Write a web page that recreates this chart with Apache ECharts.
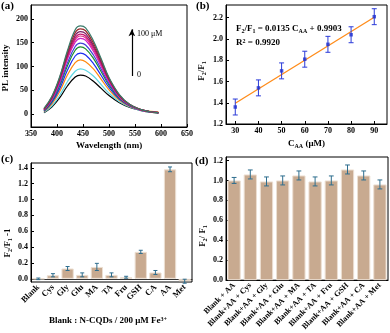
<!DOCTYPE html>
<html>
<head>
<meta charset="utf-8">
<script src="https://cdn.jsdelivr.net/npm/echarts@6/dist/echarts.min.js"></script>
<style>
  html, body { margin: 0; padding: 0; background: #fff; }
  #main { width: 390px; height: 333px; }
</style>
</head>
<body>
<div id="main"></div>
<script>
// (a) PL spectra, 0 -> 100 uM
var wavelengths = [375, 390, 405, 420, 435, 445, 455, 470, 485, 500, 520, 540, 560, 580, 595];
var spec01 = [3, 15, 34, 59, 78, 82, 80, 69, 54, 39, 24, 14, 8, 4, 2];
var spec02 = [4, 17, 39, 68, 90, 95, 92, 80, 62, 44, 26, 15, 8, 4, 3];
var spec03 = [5, 21, 47, 82, 108, 114, 110, 95, 73, 51, 29, 16, 9, 6, 5];
var spec04 = [6, 24, 53, 92, 122, 128, 124, 106, 81, 56, 31, 17, 9, 5, 3];
var spec05 = [7, 26, 59, 101, 134, 141, 137, 117, 89, 61, 33, 18, 9, 5, 3];
var spec06 = [8, 28, 62, 107, 142, 149, 145, 124, 94, 64, 35, 18, 9, 5, 3];
var spec07 = [9, 31, 67, 115, 151, 159, 155, 132, 100, 68, 36, 19, 9, 5, 3];
var spec08 = [9, 32, 69, 118, 156, 164, 160, 136, 103, 70, 37, 19, 9, 5, 3];
var spec09 = [10, 33, 71, 121, 160, 168, 164, 140, 106, 71, 38, 19, 10, 5, 3];
var spec10 = [10, 34, 73, 125, 165, 173, 169, 144, 109, 73, 39, 20, 10, 5, 3];
var spec11 = [11, 36, 76, 129, 171, 179, 175, 149, 113, 75, 40, 20, 10, 5, 3];
var spec12 = [12, 37, 78, 133, 177, 185, 181, 154, 116, 77, 41, 20, 10, 5, 3];
var specColors = ['#000000', '#5fd6e2', '#ff8a10', '#1c2cf0', '#1a8f2a', '#4040d8',
  '#d020c8', '#e02a86', '#c81870', '#7a1c66', '#9a2a2a', '#3a7a6a'];
var wlTicks = [350, 400, 450, 500, 550, 600, 650];
var plTicks = [0, 50, 100, 150, 200];

// (b) linear fit
var concAA = [30, 40, 50, 60, 70, 80, 90];
var ratioAA = [1.36, 1.54, 1.70, 1.81, 1.95, 2.04, 2.21];
var ratioErr = [0.075, 0.075, 0.075, 0.075, 0.075, 0.075, 0.075];
var fitX = [30, 90];
var fitY = [1.395, 2.205];
var concTicks = [30, 40, 50, 60, 70, 80, 90];
var ratioTicks = [1.2, 1.4, 1.6, 1.8, 2.0, 2.2];

// (c) selectivity
var selNames = ['Blank', 'Cys', 'Gly', 'Glu', 'MA', 'TA', 'Fru', 'GSH', 'CA', 'AA', 'Met'];
var selValues = [0.0, 0.045, 0.13, 0.05, 0.15, 0.05, 0.02, 0.34, 0.08, 1.38, -0.03];
var selErr = [0.01, 0.02, 0.025, 0.025, 0.045, 0.025, 0.012, 0.02, 0.025, 0.03, 0.025];
var selTicks = [0, 0.2, 0.4, 0.6, 0.8, 1.0, 1.2, 1.4];

// (d) interference
var intNames = ['Blank + AA', 'Blank+AA + Cys', 'Blank+AA + Gly', 'Blank+AA + Glu', 'Blank+AA + MA',
  'Blank+AA + TA', 'Blank+AA + Fru', 'Blank+AA + GSH', 'Blank+AA + CA', 'Blank+AA + Met'];
var intValues = [1.00, 1.06, 0.99, 1.00, 1.05, 0.99, 1.00, 1.11, 1.05, 0.96];
var intErr = [0.03, 0.045, 0.045, 0.045, 0.045, 0.045, 0.045, 0.045, 0.045, 0.045];
var intTicks = [0, 0.2, 0.4, 0.6, 0.8, 1.0, 1.2];

var FONT = 'Liberation Serif, DejaVu Serif, serif';
var barColor = '#c8aa90';
var errColor = '#2d6d8e';

var myChart = echarts.init(document.getElementById('main'));

function valAxis(idx, min, max, ticks, fmt, extra) {
  var ax = {
    type: 'value', gridIndex: idx, min: min, max: max,
    axisLine: { show: true, onZero: false, lineStyle: { color: '#000', width: 1 } },
    axisTick: { show: true, inside: true, length: 3, customValues: ticks, lineStyle: { color: '#000' } },
    axisLabel: { customValues: ticks, color: '#000', fontFamily: FONT, fontWeight: 'bold', fontSize: 8, margin: 3,
      formatter: fmt },
    splitLine: { show: false }
  };
  return Object.assign(ax, extra || {});
}

function errRender(color, half) {
  return function (params, api) {
    var x = api.value(0);
    var lo = api.coord([x, api.value(1)]);
    var hi = api.coord([x, api.value(2)]);
    var st = { stroke: color, lineWidth: 1 };
    return {
      type: 'group',
      children: [
        { type: 'line', shape: { x1: lo[0], y1: lo[1], x2: hi[0], y2: hi[1] }, style: st },
        { type: 'line', shape: { x1: lo[0] - half, y1: lo[1], x2: lo[0] + half, y2: lo[1] }, style: st },
        { type: 'line', shape: { x1: hi[0] - half, y1: hi[1], x2: hi[0] + half, y2: hi[1] }, style: st }
      ]
    };
  };
}

var specs = [spec01, spec02, spec03, spec04, spec05, spec06, spec07, spec08, spec09, spec10, spec11, spec12];
var series = specs.map(function (s, k) {
  return {
    type: 'line', xAxisIndex: 0, yAxisIndex: 0, smooth: 0.4, showSymbol: false, silent: true,
    lineStyle: { color: specColors[k], width: 1.2 },
    data: wavelengths.map(function (w, i) { return [w, s[i]]; }),
    z: 2 + k
  };
});
series[0].markLine = {
  silent: true, symbol: ['none', 'arrow'], symbolSize: [5, 7], label: { show: false },
  lineStyle: { color: '#000', width: 1.2, type: 'solid' },
  data: [[{ coord: [544, 80] }, { coord: [544, 178] }]]
};

series.push({
  type: 'line', xAxisIndex: 1, yAxisIndex: 1, showSymbol: false, silent: true,
  lineStyle: { color: '#ff8c1a', width: 1.3 },
  data: fitX.map(function (x, i) { return [x, fitY[i]]; })
});
series.push({
  type: 'custom', xAxisIndex: 1, yAxisIndex: 1, renderItem: errRender('#2a3ad8', 2.5),
  encode: { x: 0, y: [1, 2] },
  data: concAA.map(function (c, i) { return [c, ratioAA[i] - ratioErr[i], ratioAA[i] + ratioErr[i]]; }),
  z: 5
});
series.push({
  type: 'scatter', xAxisIndex: 1, yAxisIndex: 1, symbol: 'rect', symbolSize: 3.5,
  itemStyle: { color: '#1f2fd0' },
  data: concAA.map(function (c, i) { return [c, ratioAA[i]]; }),
  z: 6
});

series.push({
  type: 'bar', xAxisIndex: 2, yAxisIndex: 2, barCategoryGap: '16%',
  itemStyle: { color: barColor, borderColor: '#ecdfd2', borderWidth: 1 },
  data: selValues
});
series.push({
  type: 'custom', xAxisIndex: 2, yAxisIndex: 2, renderItem: errRender(errColor, 2),
  encode: { x: 0, y: [1, 2] },
  data: selValues.map(function (v, i) { return [i, v - selErr[i], v + selErr[i]]; }),
  z: 5
});

series.push({
  type: 'bar', xAxisIndex: 3, yAxisIndex: 3, barCategoryGap: '18%',
  itemStyle: { color: barColor, borderColor: '#ecdfd2', borderWidth: 1 },
  data: intValues
});
series.push({
  type: 'custom', xAxisIndex: 3, yAxisIndex: 3, renderItem: errRender(errColor, 2.4),
  encode: { x: 0, y: [1, 2] },
  data: intValues.map(function (v, i) { return [i, v - intErr[i], v + intErr[i]]; }),
  z: 5
});

var nameStyle = { color: '#000', fontFamily: FONT, fontWeight: 'bold', fontSize: 9 };
var richName = {
  b: { fontFamily: FONT, fontWeight: 'bold', fontSize: 9, color: '#000' },
  s: { fontFamily: FONT, fontWeight: 'bold', fontSize: 6, color: '#000', verticalAlign: 'bottom', padding: [5, 0, 0, 0] },
  p: { fontFamily: FONT, fontWeight: 'bold', fontSize: 6, color: '#000', verticalAlign: 'top', padding: [0, 0, 4, 0] }
};
var catLabel = { color: '#000', fontFamily: FONT, fontWeight: 'bold', fontSize: 8.5, rotate: 45, interval: 0, margin: 4 };

function txt(x, y, text, opt) {
  return Object.assign({
    type: 'text', x: x, y: y, silent: true,
    style: Object.assign({ text: text, fill: '#000', font: 'bold 9px ' + FONT, align: 'left', verticalAlign: 'middle', rich: richName }, (opt && opt.style) || {})
  }, opt && opt.rotation ? { rotation: opt.rotation } : {});
}

var option = {
  animation: false,
  backgroundColor: '#fff',
  grid: [
    { left: 31, top: 5, width: 156, height: 122, show: true, borderColor: '#000', borderWidth: 1 },
    { left: 226, top: 5, width: 161, height: 119, show: true, borderColor: '#000', borderWidth: 1 },
    { left: 31, top: 163, width: 161, height: 119, show: true, borderColor: '#000', borderWidth: 1 },
    { left: 226, top: 157, width: 162, height: 126, show: true, borderColor: '#000', borderWidth: 1 }
  ],
  xAxis: [
    valAxis(0, 350, 650, wlTicks, function (v) { return v; },
      { name: 'Wavelength (nm)', nameLocation: 'middle', nameGap: 14, nameTextStyle: nameStyle }),
    valAxis(1, 26, 95.5, concTicks, function (v) { return v; },
      { name: '{b|C}{s|AA}{b| (μM)}', nameLocation: 'middle', nameGap: 14, nameTextStyle: { rich: richName } }),
    {
      type: 'category', gridIndex: 2, data: selNames,
      axisLine: { show: true, onZero: true, lineStyle: { color: '#333', width: 1 } },
      axisTick: { show: false }, axisLabel: catLabel, splitLine: { show: false }
    },
    {
      type: 'category', gridIndex: 3, data: intNames,
      axisLine: { show: true, lineStyle: { color: '#000', width: 1 } },
      axisTick: { show: false }, axisLabel: Object.assign({}, catLabel, { fontSize: 8 }), splitLine: { show: false }
    }
  ],
  yAxis: [
    valAxis(0, -27, 229, plTicks, function (v) { return v; }),
    valAxis(1, 1.2, 2.32, ratioTicks, function (v) { return v.toFixed(1); }),
    valAxis(2, -0.04, 1.46, selTicks, function (v) { return v.toFixed(1); }),
    valAxis(3, 0, 1.235, intTicks, function (v) { return v.toFixed(1); })
  ],
  graphic: [
    txt(1, 6, '(a)', { style: { font: 'bold 11px ' + FONT } }),
    txt(196, 6, '(b)', { style: { font: 'bold 11px ' + FONT } }),
    txt(1, 159, '(c)', { style: { font: 'bold 11px ' + FONT } }),
    txt(195, 161, '(d)', { style: { font: 'bold 11px ' + FONT } }),
    txt(6, 68, 'PL intensity', { rotation: Math.PI / 2, style: { align: 'center' } }),
    txt(137, 34, '100 μM', { style: { font: '8px ' + FONT } }),
    txt(137, 75, '0', { style: { font: '8px ' + FONT } }),
    txt(202, 71, '{b|F}{s|2}{b|/F}{s|1}', { rotation: Math.PI / 2, style: { align: 'center' } }),
    txt(236, 29, '{b|F}{s|2}{b|/F}{s|1}{b| = 0.0135 C}{s|AA}{b| + 0.9903}', { style: { font: 'bold 8px ' + FONT } }),
    txt(236, 43, '{b|R}{p|2}{b| = 0.9920}'),
    txt(8, 243, '{b|F}{s|2}{b|/F}{s|1}{b| -1}', { rotation: Math.PI / 2, style: { align: 'center' } }),
    txt(108, 321, '{b|Blank : N-CQDs / 200 μM Fe}{p|3+}', { style: { align: 'center' } }),
    txt(203, 236, '{b|F}{s|2}{b|/ F}{s|1}', { rotation: Math.PI / 2, style: { align: 'center' } })
  ],
  series: series
};

myChart.setOption(option);
window.addEventListener('resize', function () { myChart.resize(); });
</script>
</body>
</html>
